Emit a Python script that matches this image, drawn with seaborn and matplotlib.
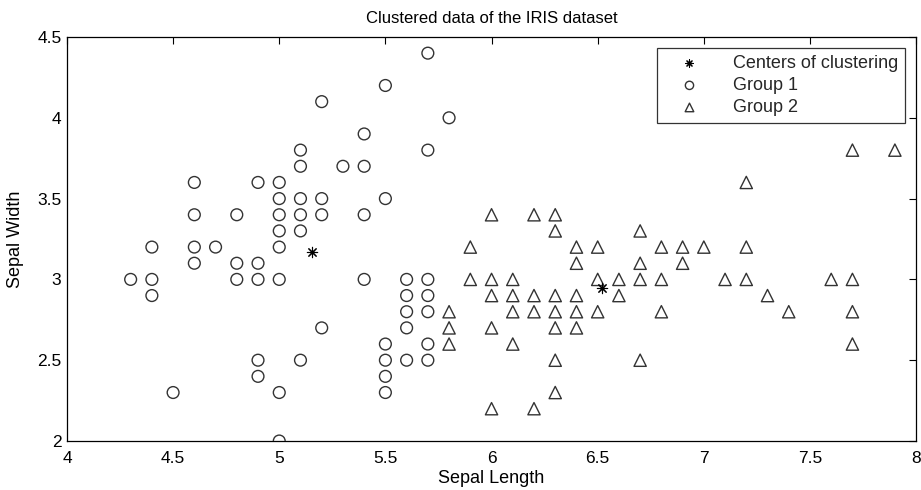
import matplotlib
matplotlib.use("Agg")
import matplotlib.pyplot as plt
import seaborn as sns
import pandas as pd
from matplotlib.ticker import FuncFormatter

# Group 1 (circles)
g1_x = [4.3, 4.4, 4.4, 4.4, 4.5, 4.6, 4.6, 4.6, 4.6, 4.7,
        4.8, 4.8, 4.8, 4.9, 4.9, 4.9, 4.9, 4.9,
        5.0, 5.0, 5.0, 5.0, 5.0, 5.0, 5.0, 5.0,
        5.1, 5.1, 5.1, 5.1, 5.1, 5.1,
        5.2, 5.2, 5.2, 5.2, 5.3,
        5.4, 5.4, 5.4, 5.4,
        5.5, 5.5, 5.5, 5.5, 5.5, 5.5,
        5.6, 5.6, 5.6, 5.6, 5.6,
        5.7, 5.7, 5.7, 5.7, 5.7, 5.7, 5.7, 5.8]
g1_y = [3.0, 3.2, 3.0, 2.9, 2.3, 3.6, 3.4, 3.2, 3.1, 3.2,
        3.4, 3.1, 3.0, 3.6, 3.1, 3.0, 2.5, 2.4,
        3.6, 3.5, 3.4, 3.3, 3.2, 3.0, 2.3, 2.0,
        3.8, 3.7, 3.5, 3.4, 3.3, 2.5,
        4.1, 3.5, 3.4, 2.7, 3.7,
        3.9, 3.7, 3.4, 3.0,
        4.2, 3.5, 2.6, 2.5, 2.4, 2.3,
        3.0, 2.9, 2.8, 2.7, 2.5,
        4.4, 3.8, 3.0, 2.9, 2.8, 2.6, 2.5, 4.0]

# Group 2 (triangles)
g2_x = [5.8, 5.8, 5.8, 5.9, 5.9,
        6.0, 6.0, 6.0, 6.0, 6.0,
        6.1, 6.1, 6.1, 6.1,
        6.2, 6.2, 6.2, 6.2,
        6.3, 6.3, 6.3, 6.3, 6.3, 6.3, 6.3,
        6.4, 6.4, 6.4, 6.4, 6.4,
        6.5, 6.5, 6.5, 6.6, 6.6,
        6.7, 6.7, 6.7, 6.7,
        6.8, 6.8, 6.8, 6.9, 6.9, 7.0, 7.1,
        7.2, 7.2, 7.2, 7.3, 7.4, 7.6,
        7.7, 7.7, 7.7, 7.7, 7.9]
g2_y = [2.8, 2.7, 2.6, 3.2, 3.0,
        3.4, 3.0, 2.9, 2.7, 2.2,
        3.0, 2.9, 2.8, 2.6,
        3.4, 2.9, 2.8, 2.2,
        3.4, 3.3, 2.9, 2.8, 2.7, 2.5, 2.3,
        3.2, 3.1, 2.9, 2.8, 2.7,
        3.2, 3.0, 2.8, 3.0, 2.9,
        3.3, 3.1, 3.0, 2.5,
        3.2, 3.0, 2.8, 3.2, 3.1, 3.2, 3.0,
        3.6, 3.2, 3.0, 2.9, 2.8, 3.0,
        3.8, 3.0, 2.8, 2.6, 3.8]

# Cluster centers
c_x = [5.153, 6.519]
c_y = [3.167, 2.949]

xticks = [4, 4.5, 5, 5.5, 6, 6.5, 7, 7.5, 8]
yticks = [2, 2.5, 3, 3.5, 4, 4.5]

sns.set_theme(style="white")
plt.rcParams['font.family'] = ['Liberation Sans', 'DejaVu Sans']

fig = plt.figure(figsize=(9.21, 4.9), dpi=100)
ax = fig.add_axes([0.0727, 0.1, 0.922, 0.8245])

edge = "#333333"
df1 = pd.DataFrame({"x": g1_x, "y": g1_y})
df2 = pd.DataFrame({"x": g2_x, "y": g2_y})
dfc = pd.DataFrame({"x": c_x, "y": c_y})

sns.scatterplot(data=dfc, x="x", y="y", ax=ax, marker=(8, 2, 0), s=55,
                color="black", edgecolor="black", linewidth=0.8,
                label="Centers of clustering", zorder=4)
sns.scatterplot(data=df1, x="x", y="y", ax=ax, marker="o", s=72,
                facecolor="none", edgecolor=edge, linewidth=1.0,
                label="Group 1", zorder=3)
sns.scatterplot(data=df2, x="x", y="y", ax=ax, marker="^", s=78,
                facecolor="none", edgecolor=edge, linewidth=1.0,
                label="Group 2", zorder=3)

ax.set_xlim(4, 8)
ax.set_ylim(2, 4.5)
ax.set_xticks(xticks)
ax.set_yticks(yticks)
fmt = FuncFormatter(lambda v, p: f"{v:g}")
ax.xaxis.set_major_formatter(fmt)
ax.yaxis.set_major_formatter(fmt)
ax.tick_params(direction="in", length=5, width=0.8, color="black",
               top=True, right=True, labelsize=12.5, labelcolor="black")
ax.tick_params(axis="x", pad=7)
ax.tick_params(axis="y", pad=4)
for s in ax.spines.values():
    s.set_color("black")
    s.set_linewidth(0.9)

ax.set_xlabel("Sepal Length", fontsize=13, labelpad=3, color="black")
ax.set_ylabel("Sepal Width", fontsize=13, color="black")
ax.yaxis.set_label_coords(-0.05, 0.5)
ax.set_title("Clustered data of the IRIS dataset", fontsize=12, pad=10, color="black")

leg = ax.legend(loc="upper right", fontsize=13, frameon=True, fancybox=False,
                edgecolor="black", borderaxespad=0.6, handletextpad=1.0,
                labelspacing=0.28, borderpad=0.4, handlelength=2.8,
                markerscale=0.7)
leg.get_frame().set_linewidth(0.9)

fig.savefig("out.png", dpi=100, facecolor="white")
